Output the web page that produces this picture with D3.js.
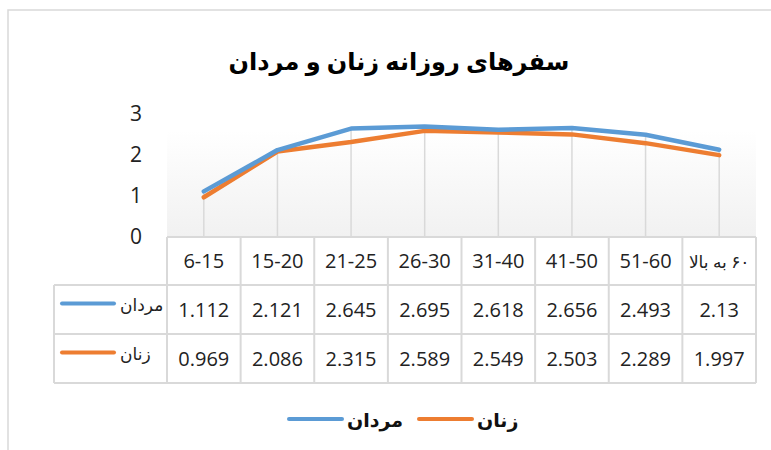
<!DOCTYPE html>
<html>
<head>
<meta charset="utf-8">
<script src="https://cdn.jsdelivr.net/npm/d3@7"></script>
<style>
  body { margin: 0; background: #fff; }
  svg { display: block; font-family: "Open Sans", "DejaVu Sans", sans-serif; }
</style>
</head>
<body>
<svg id="chart" width="771" height="450"></svg>
<script>
const categories = ["6-15", "15-20", "21-25", "26-30", "31-40", "41-50", "51-60", "۶۰ به بالا"];
const men = [1.112, 2.121, 2.645, 2.695, 2.618, 2.656, 2.493, 2.13];
const women = [0.969, 2.086, 2.315, 2.589, 2.549, 2.503, 2.289, 1.997];
const yTicks = [0, 1, 2, 3];
const seriesNames = ["مردان", "زنان"];
const title = "سفرهای روزانه زنان و مردان";

const colors = { men: "#5b9bd5", women: "#ed7d31", grid: "#d9d9d9" };
const svg = d3.select("#chart");

// frame of the chart
svg.append("rect")
    .attr("x", 8).attr("y", 10)
    .attr("width", 820).attr("height", 500)
    .attr("fill", "#fff")
    .attr("stroke", colors.grid).attr("stroke-width", 1.5);

svg.append("text")
    .attr("x", 399).attr("y", 70)
    .attr("text-anchor", "middle")
    .attr("direction", "rtl")
    .style("font-size", "24px").style("font-weight", "bold")
    .text(title);

const x = d3.scaleBand().domain(categories).range([167, 756]);
const y = d3.scaleLinear().domain([0, 3]).range([237, 114]);
const plotTop = 130;

// plot area background gradient
const grad = svg.append("defs").append("linearGradient")
    .attr("id", "bg").attr("x1", 0).attr("y1", 0).attr("x2", 0).attr("y2", 1);
grad.append("stop").attr("offset", "0%").attr("stop-color", "#ffffff");
grad.append("stop").attr("offset", "100%").attr("stop-color", "#f1f1f1");
svg.append("rect")
    .attr("x", x.range()[0]).attr("y", plotTop)
    .attr("width", x.range()[1] - x.range()[0])
    .attr("height", y(0) - plotTop)
    .attr("fill", "url(#bg)");

// y axis labels
const yAxis = d3.axisLeft(y).tickValues(yTicks).tickFormat(d3.format("d")).tickSize(0).tickPadding(0);
const yg = svg.append("g").attr("transform", "translate(142,0)").call(yAxis);
yg.select(".domain").remove();
yg.selectAll("text").attr("x", 0).attr("text-anchor", "end")
    .style("font-size", "21px").style("font-family", "Open Sans").attr("fill", "#222");

// drop lines
svg.append("g").selectAll("line")
    .data(categories)
    .join("line")
    .attr("x1", d => x(d) + x.bandwidth() / 2)
    .attr("x2", d => x(d) + x.bandwidth() / 2)
    .attr("y1", (d, i) => y(Math.max(men[i], women[i])))
    .attr("y2", y(0))
    .attr("stroke", colors.grid).attr("stroke-width", 1.5);

// data table
const tableLeft = 54;
const rowTops = [237, 285, 334, 383];
const t = svg.append("g").attr("stroke", colors.grid).attr("stroke-width", 2);
t.append("line").attr("x1", x.range()[0]).attr("x2", x.range()[1]).attr("y1", rowTops[0]).attr("y2", rowTops[0]);
rowTops.slice(1).forEach(r => {
    t.append("line").attr("x1", tableLeft).attr("x2", x.range()[1]).attr("y1", r).attr("y2", r);
});
t.append("line").attr("x1", tableLeft).attr("x2", tableLeft).attr("y1", rowTops[1]).attr("y2", rowTops[3]);
categories.concat([null]).forEach((c, i) => {
    const xx = c === null ? x.range()[1] : x(c);
    t.append("line").attr("x1", xx).attr("x2", xx).attr("y1", rowTops[0]).attr("y2", rowTops[3]);
});

// category labels
svg.append("g").selectAll("text")
    .data(categories)
    .join("text")
    .attr("x", d => x(d) + x.bandwidth() / 2)
    .attr("y", (rowTops[0] + rowTops[1]) / 2 + 7)
    .attr("text-anchor", "middle")
    .attr("direction", (d, i) => i === categories.length - 1 ? "rtl" : "ltr")
    .style("font-size", (d, i) => i === categories.length - 1 ? "17px" : "20px")
    .attr("fill", "#222")
    .text(d => d);

// value rows
[men, women].forEach((vals, r) => {
    const cy = (rowTops[r + 1] + rowTops[r + 2]) / 2;
    svg.append("g").selectAll("text")
        .data(vals)
        .join("text")
        .attr("x", (d, i) => x(categories[i]) + x.bandwidth() / 2)
        .attr("y", cy + 7)
        .attr("text-anchor", "middle")
        .style("font-size", "20px")
        .attr("fill", "#222")
        .text(d => d);
    svg.append("line")
        .attr("x1", 62).attr("x2", 114)
        .attr("y1", cy - 6).attr("y2", cy - 6)
        .attr("stroke", r === 0 ? colors.men : colors.women)
        .attr("stroke-width", 4).attr("stroke-linecap", "round");
    svg.append("text")
        .attr("x", 120).attr("y", cy + 1)
        .attr("text-anchor", "end")
        .attr("direction", "rtl")
        .style("font-size", "17px")
        .attr("fill", "#222")
        .text(seriesNames[r]);
});

// series lines
const line = d3.line()
    .x((d, i) => x(categories[i]) + x.bandwidth() / 2)
    .y(d => y(d));
[[women, colors.women], [men, colors.men]].forEach(([vals, col]) => {
    svg.append("path")
        .attr("d", line(vals))
        .attr("fill", "none")
        .attr("stroke", col)
        .attr("stroke-width", 4.5)
        .attr("stroke-linecap", "round")
        .attr("stroke-linejoin", "round");
});

// legend
const legend = [
    { name: seriesNames[0], color: colors.men, x0: 289 },
    { name: seriesNames[1], color: colors.women, x0: 419 }
];
legend.forEach(l => {
    svg.append("line")
        .attr("x1", l.x0).attr("x2", l.x0 + 53)
        .attr("y1", 419).attr("y2", 419)
        .attr("stroke", l.color).attr("stroke-width", 4).attr("stroke-linecap", "round");
    svg.append("text")
        .attr("x", l.x0 + 58).attr("y", 427)
        .attr("text-anchor", "end")
        .attr("direction", "rtl")
        .style("font-size", "19px").style("font-weight", "bold")
        .attr("fill", "#111")
        .text(l.name);
});
</script>
</body>
</html>
